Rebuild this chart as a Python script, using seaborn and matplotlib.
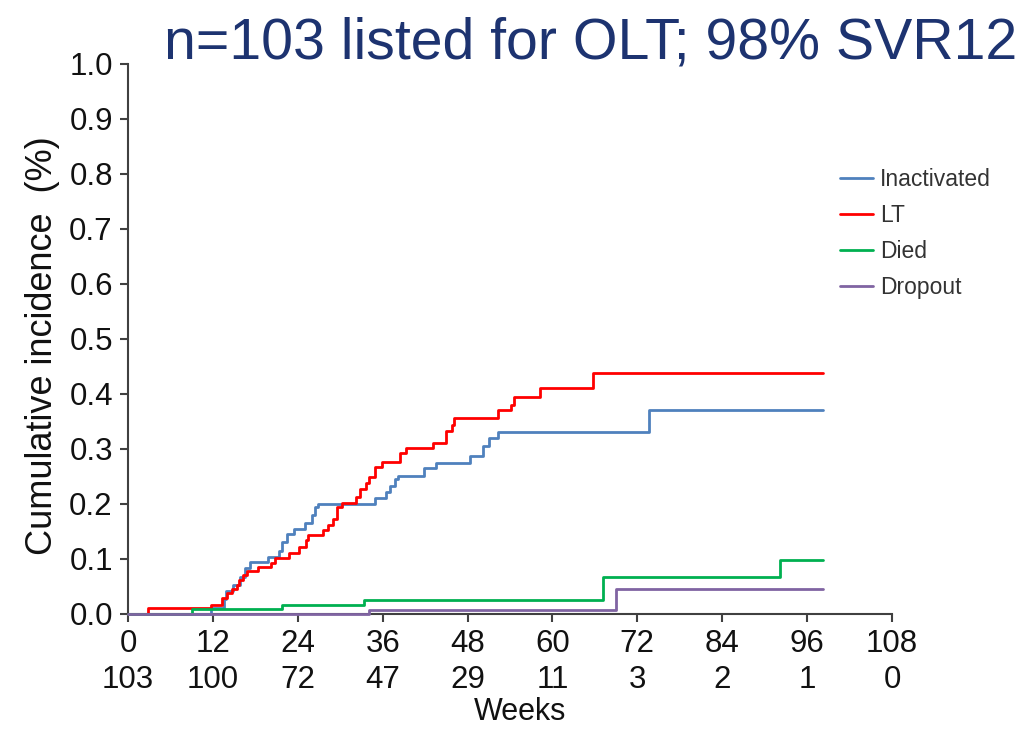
import matplotlib
matplotlib.use("Agg")
import matplotlib.pyplot as plt
import seaborn as sns
import pandas as pd

# ---------------- data ----------------
inact_weeks = [0, 11.8, 13.5, 13.9, 14.8, 15.9, 16.5, 17.2, 19.8, 21.4, 21.7, 22.5, 23.5, 25.0,
               26.0, 26.4, 26.9, 34.9, 36.4, 37.0, 37.8, 38.1, 41.8, 43.6, 48.3, 50.2, 51.1,
               52.3, 73.6, 98.3]
inact_vals = [0, 0.010, 0.027, 0.041, 0.052, 0.068, 0.083, 0.095, 0.104, 0.115, 0.130, 0.145,
              0.154, 0.165, 0.180, 0.195, 0.200, 0.210, 0.221, 0.233, 0.245, 0.251, 0.265,
              0.274, 0.288, 0.305, 0.320, 0.330, 0.370, 0.370]

lt_weeks = [0, 2.8, 11.8, 13.25, 13.96, 14.7, 15.4, 15.75, 16.3, 16.8, 18.4, 20.2, 20.8, 22.7,
            24.1, 25.2, 25.4, 27.5, 28.3, 29.0, 29.5, 30.3, 32.2, 32.8, 33.7, 34.1, 34.9, 35.9,
            38.5, 39.3, 43.1, 45.0, 45.8, 46.1, 52.3, 54.2, 54.5, 58.3, 65.7, 98.3]
lt_vals = [0, 0.010, 0.016, 0.029, 0.038, 0.045, 0.053, 0.062, 0.071, 0.079, 0.086, 0.093,
           0.101, 0.111, 0.122, 0.135, 0.144, 0.153, 0.162, 0.172, 0.195, 0.201, 0.213, 0.227,
           0.238, 0.249, 0.268, 0.277, 0.292, 0.301, 0.311, 0.333, 0.343, 0.357, 0.371, 0.380,
           0.394, 0.411, 0.439, 0.439]

died_weeks = [0, 9.0, 21.7, 33.4, 67.1, 92.1, 98.3]
died_vals = [0, 0.009, 0.017, 0.026, 0.067, 0.099, 0.099]

drop_weeks = [0, 34.0, 69.0, 98.3]
drop_vals = [0, 0.008, 0.045, 0.045]

series_names = ["Inactivated", "LT", "Died", "Dropout"]
series_colors = ["#4f81bd", "#ff0000", "#00b050", "#8064a2"]

x_ticks = [0, 12, 24, 36, 48, 60, 72, 84, 96, 108]
at_risk = [103, 100, 72, 47, 29, 11, 3, 2, 1, 0]
y_ticks = [0.0, 0.1, 0.2, 0.3, 0.4, 0.5, 0.6, 0.7, 0.8, 0.9, 1.0]

title = "n=103 listed for OLT; 98% SVR12"
ylabel = "Cumulative incidence  (%)"
xlabel = "Weeks"

# ---------------- build table ----------------
frames = []
for name, w, v in zip(series_names,
                      [inact_weeks, lt_weeks, died_weeks, drop_weeks],
                      [inact_vals, lt_vals, died_vals, drop_vals]):
    frames.append(pd.DataFrame({"Weeks": w, "Incidence": v, "Event": name}))
df = pd.concat(frames, ignore_index=True)

# ---------------- style ----------------
sns.set_theme(style="ticks")
plt.rcParams["font.family"] = ["Liberation Sans", "DejaVu Sans"]

fig = plt.figure(figsize=(10.3, 7.29), dpi=100)
ax = fig.add_axes([0.1243, 0.1578, 0.7417, 0.7545])

sns.lineplot(data=df, x="Weeks", y="Incidence", hue="Event", hue_order=series_names,
             palette=dict(zip(series_names, series_colors)), estimator=None,
             drawstyle="steps-post", linewidth=2.0, ax=ax, clip_on=False, zorder=3)

ax.set_xlim(0, 108)
ax.set_ylim(0, 1.0)
ax.set_xticks(x_ticks)
ax.set_xticklabels([f"{t}\n{n}" for t, n in zip(x_ticks, at_risk)],
                   fontsize=22.5, linespacing=1.25)
ax.set_yticks(y_ticks)
ax.set_yticklabels([f"{t:.1f}" for t in y_ticks], fontsize=22.5)
ax.tick_params(axis="both", direction="out", length=6, width=1.5, color="#404040",
               labelcolor="#111111", pad=5)
for s in ["top", "right"]:
    ax.spines[s].set_visible(False)
for s in ["left", "bottom"]:
    ax.spines[s].set_color("#404040")
    ax.spines[s].set_linewidth(1.5)
ax.set_xlabel("")
ax.set_ylabel("")

fig.text(0.505, 0.024, xlabel, ha="center", va="center", fontsize=22, color="#111111")
fig.text(0.041, 0.526, ylabel, ha="center", va="center", rotation=90, fontsize=26,
         color="#111111")
fig.text(0.573, 0.94, title, ha="center", va="center", fontsize=41.2, color="#1d3370")

handles, labels = ax.get_legend_handles_labels()
ax.legend(handles, labels, loc="upper left", bbox_to_anchor=(0.8155, 0.769),
          bbox_transform=fig.transFigure, frameon=False, fontsize=16.5,
          handlelength=1.45, handletextpad=0.3, labelspacing=0.56, borderpad=0,
          borderaxespad=0, labelcolor="#333333")

fig.savefig("out.png", dpi=100)
